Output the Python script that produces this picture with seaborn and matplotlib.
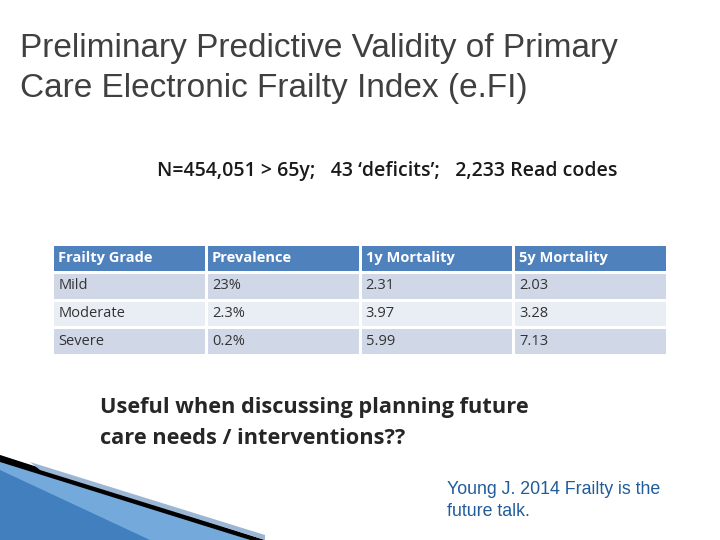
import numpy as np
import pandas as pd
import matplotlib
matplotlib.use("Agg")
import matplotlib.pyplot as plt
from matplotlib.colors import ListedColormap
from matplotlib.patches import Polygon
import seaborn as sns

# table data
columns = ["Frailty Grade", "Prevalence", "1y Mortality", "5y Mortality"]
grades = ["Mild", "Moderate", "Severe"]
prevalence = ["23%", "2.3%", "0.2%"]
mort_1y = ["2.31", "3.97", "5.99"]
mort_5y = ["2.03", "3.28", "7.13"]

sns.set_theme(style="white")
plt.rcParams['font.family'] = ['Liberation Sans', 'DejaVu Sans']

fig = plt.figure(figsize=(7.2, 5.4), dpi=100)
fig.patch.set_facecolor("white")

# background overlay in pixel coords for decoration
bg = fig.add_axes([0, 0, 1, 1])
bg.set_xlim(0, 720)
bg.set_ylim(540, 0)
bg.axis("off")
bg.add_patch(Polygon([[0, 455], [0, 540], [250, 540]], closed=True,
                     facecolor="#5B9BD5", edgecolor="none", alpha=0.85))
bg.add_patch(Polygon([[0, 470], [0, 540], [150, 540]], closed=True,
                     facecolor="#2E6DB4", edgecolor="none", alpha=0.7))
bg.add_patch(Polygon([[0, 455], [265, 540], [250, 540], [0, 462]], closed=True,
                     facecolor="black", edgecolor="none"))
bg.add_patch(Polygon([[30, 462], [265, 535], [265, 540], [40, 470]], closed=True,
                     facecolor="#9BB7D4", edgecolor="none"))

fig.text(20 / 720, 1 - 48 / 540, "Preliminary Predictive Validity of Primary",
         fontsize=24, color="#404040", va="center")
fig.text(20 / 720, 1 - 89 / 540, "Care Electronic Frailty Index (e.FI)",
         fontsize=24, color="#404040", va="center")
fig.text(157 / 720, 1 - 171 / 540,
         "N=454,051 > 65y;   43 \u2018deficits\u2019;   2,233 Read codes",
         fontsize=14, color="#1a1a1a", va="center", fontweight="semibold",
         family=["Open Sans", "DejaVu Sans"])

# table drawn as heatmap
shade = np.array([[0] * 4, [1] * 4, [2] * 4, [1] * 4])
labels = np.array([columns] + [list(r) for r in zip(grades, prevalence, mort_1y, mort_5y)])
tab = fig.add_axes([52 / 720, 1 - 355 / 540, 615 / 720, 111 / 540])
sns.heatmap(pd.DataFrame(shade), ax=tab, cbar=False,
            cmap=ListedColormap(["#4F81BD", "#D0D8E8", "#E9EDF4"]), vmin=-0.5, vmax=2.5,
            linewidths=2, linecolor="white", xticklabels=False, yticklabels=False)
for i in range(4):
    for j in range(4):
        tab.text(j + 0.04, i + 0.5, labels[i, j], va="center", ha="left",
                 fontsize=10.5, family=["Open Sans", "DejaVu Sans"],
                 color="white" if i == 0 else "#333333",
                 fontweight="bold" if i == 0 else "normal")

fig.text(100 / 720, 1 - 408 / 540, "Useful when discussing planning future",
         fontsize=15.7, fontweight="bold", color="#262626", va="center",
         family=["Open Sans", "DejaVu Sans"])
fig.text(100 / 720, 1 - 439 / 540, "care needs / interventions??",
         fontsize=15.7, fontweight="bold", color="#262626", va="center",
         family=["Open Sans", "DejaVu Sans"])

fig.text(447 / 720, 1 - 489 / 540, "Young J. 2014 Frailty is the",
         fontsize=12.8, color="#1F5C99", va="center")
fig.text(447 / 720, 1 - 511 / 540, "future talk.",
         fontsize=12.8, color="#1F5C99", va="center")

fig.savefig("out.png", dpi=100)
